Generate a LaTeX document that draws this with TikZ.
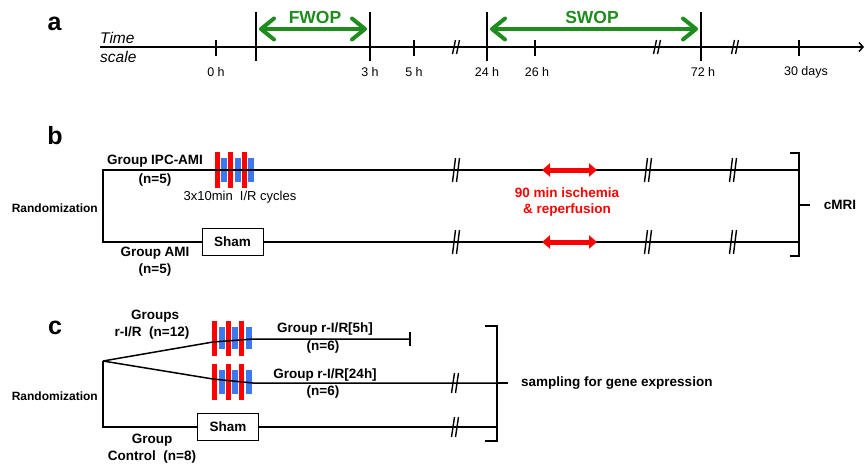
\documentclass[tikz,border=0pt]{standalone}
\usepackage{fontspec}
\setmainfont{Liberation Sans}
\usetikzlibrary{arrows.meta}
\definecolor{gr}{RGB}{30,140,30}
\definecolor{irred}{RGB}{255,0,0}
\definecolor{irblue}{RGB}{60,120,240}
\tikzset{
  ln/.style={line width=1.5pt},
  bl/.style={font=\fontsize{13.5}{15}\selectfont\bfseries, inner sep=0pt},
  rnd/.style={font=\fontsize{12}{14}\selectfont\bfseries, inner sep=0pt},
  tl/.style={font=\fontsize{12.5}{14}\selectfont, inner sep=0pt},
  pl/.style={font=\fontsize{25}{27}\selectfont\bfseries, inner sep=0pt},
  gl/.style={font=\fontsize{17.5}{19}\selectfont\bfseries, inner sep=0pt, text=gr},
  rl/.style={font=\fontsize{13.5}{15}\selectfont\bfseries, inner sep=0pt, text=red},
  ital/.style={font=\fontsize{15.5}{17}\selectfont\itshape, inner sep=0pt, anchor=west},
  garrow/.style={draw=gr, line width=4pt,
     {Straight Barb[length=13pt,width=21pt,round]}-{Straight Barb[length=13pt,width=21pt,round]}},
  rarrow/.style={draw=red, line width=5pt,
     {Triangle[length=8pt,width=13pt]}-{Triangle[length=8pt,width=13pt]}},
  shambox/.style={draw, line width=1pt, minimum width=61pt, minimum height=27pt, bl},
  pics/brk/.style={code={\draw[line width=1.4pt] (-3.5,#1) -- (-0.5,-#1) (0.5,#1) -- (3.5,-#1);}},
  pics/ir/.style={code={
    \foreach \i in {0,1,2}{
      \fill[irred] ({-17+13.5*\i-2.5},-#1) rectangle ({-17+13.5*\i+2.5},#1);
      \fill[irblue] ({-10+13.5*\i-3},{-0.64*#1}) rectangle ({-10+13.5*\i+3},{0.64*#1});
    }}},
}
\begin{document}
\begin{tikzpicture}[x=1pt,y=-1pt]
\useasboundingbox (0,0) rectangle (865,466);

% ---------------- panel a ----------------
\node[pl] (la) at (54.5,24) {a};
\node[ital] (time) at (100,38) {Time};
\node[ital] (scale) at (100,57) {scale};
\coordinate (axL) at (100,47);
\coordinate (axR) at (864,47);
\draw[ln,-{Straight Barb[length=4pt,width=9pt]}] (axL) -- (axR);
\foreach \x in {216,414,535,799}{\draw[ln] (\x,40) -- (\x,56);}
\foreach \x in {256,370,487,701}{\draw[ln] (\x,12) -- (\x,61);}
\foreach \x in {456,657,735}{\pic at (\x,47) {brk=7};}
\node[tl] (t0) at (216,72) {0 h};
\node[tl] (t3) at (370,72) {3 h};
\node[tl] (t5) at (414,72) {5 h};
\node[tl] (t24) at (487,72) {24 h};
\node[tl] (t26) at (537,72) {26 h};
\node[tl] (t72) at (703,72) {72 h};
\node[tl] (t30) at (806,72) {30 days};
\coordinate (fwL) at (259,29);
\coordinate (fwR) at (367,29);
\coordinate (swL) at (490,29);
\coordinate (swR) at (698,29);
\draw[garrow] (fwL) -- (fwR);
\draw[garrow] (swL) -- (swR);
\node[gl] (fwop) at (315,17) {FWOP};
\node[gl] (swop) at (592,17) {SWOP};

% ---------------- panel b ----------------
\node[pl] (lb) at (55,136) {b};
\pic at (234,170) {ir=18};
\coordinate (bTL) at (103,170);
\coordinate (bBL) at (103,242);
\coordinate (bTR) at (799,170);
\coordinate (bBR) at (799,242);
\node[shambox] (shamb) at (232.5,242) {Sham};
\draw[ln] (bTR) -- (bTL) -- (bBL) -- (shamb.west);
\draw[ln] (shamb.east) -- (bBR);
\foreach \x in {456,648,733}{\pic at (\x,170) {brk=12}; \pic at (\x,242) {brk=12};}
\coordinate (raL1) at (542,170);
\coordinate (raR1) at (597,170);
\coordinate (raL2) at (542,242);
\coordinate (raR2) at (597,242);
\draw[rarrow] (raL1) -- (raR1);
\draw[rarrow] (raL2) -- (raR2);
\node[rl] (isch1) at (567,193) {90 min ischemia};
\node[rl] (isch2) at (567,210) {\& reperfusion};
\coordinate (bkT) at (790,153);
\coordinate (bkB) at (790,256);
\draw[ln] (bkT) -- (799,153) -- (799,256) -- (bkB);
\coordinate (bkM) at (810,205);
\draw[ln] (799,205) -- (bkM);
\node[bl] (cmri) at (840,205) {cMRI};
\node[bl] (gipc) at (155,161) {Group IPC-AMI};
\node[bl] (gipcn) at (155,180) {(n=5)};
\node[font=\fontsize{13}{15}\selectfont, inner sep=0pt] (cyc) at (240,197) {3x10min\ \ I/R cycles};
\node[rnd, anchor=east] (randb) at (98,208) {Randomization};
\node[bl] (gami) at (155,253) {Group AMI};
\node[bl] (gamin) at (155,270) {(n=5)};

% ---------------- panel c ----------------
\node[pl] (lc) at (55,328) {c};
\pic at (231.5,338) {ir=17.5};
\pic at (231.5,382) {ir=18};
\coordinate (F) at (103,361);
\coordinate (u1) at (213,342);
\coordinate (u2) at (253,339);
\coordinate (uE) at (410,339);
\coordinate (l1) at (213,379);
\coordinate (l2) at (253,383);
\coordinate (lE) at (497,383);
\coordinate (cBL) at (103,427);
\coordinate (cBR) at (497,427);
\node[shambox] (shamc) at (228,427) {Sham};
\draw[ln] (F) -- (u1) -- (u2) -- (uE);
\draw[ln] (410,332) -- (410,346);
\draw[ln] (F) -- (l1) -- (l2) -- (lE);
\draw[ln] (F) -- (cBL) -- (shamc.west);
\draw[ln] (shamc.east) -- (cBR);
\pic at (455,383) {brk=10};
\pic at (455,427) {brk=10};
\coordinate (ckT) at (485,326);
\coordinate (ckB) at (485,441);
\draw[ln] (ckT) -- (497,326) -- (497,441) -- (ckB);
\coordinate (ckM) at (508,383);
\draw[ln] (lE) -- (ckM);
\node[bl, anchor=west] (samp) at (521,383) {sampling for gene expression};
\node[bl] (grps) at (155,316) {Groups};
\node[bl] (grpsn) at (152,333) {r-I/R\ \ (n=12)};
\node[bl] (g5) at (325,329) {Group r-I/R[5h]};
\node[bl] (g5n) at (323,347) {(n=6)};
\node[bl] (g24) at (325,375) {Group r-I/R[24h]};
\node[bl] (g24n) at (323,392) {(n=6)};
\node[rnd, anchor=east] (randc) at (98,396) {Randomization};
\node[bl] (gctl) at (152,440) {Group};
\node[bl] (gctln) at (152,457) {Control\ \ (n=8)};
\end{tikzpicture}
\end{document}
